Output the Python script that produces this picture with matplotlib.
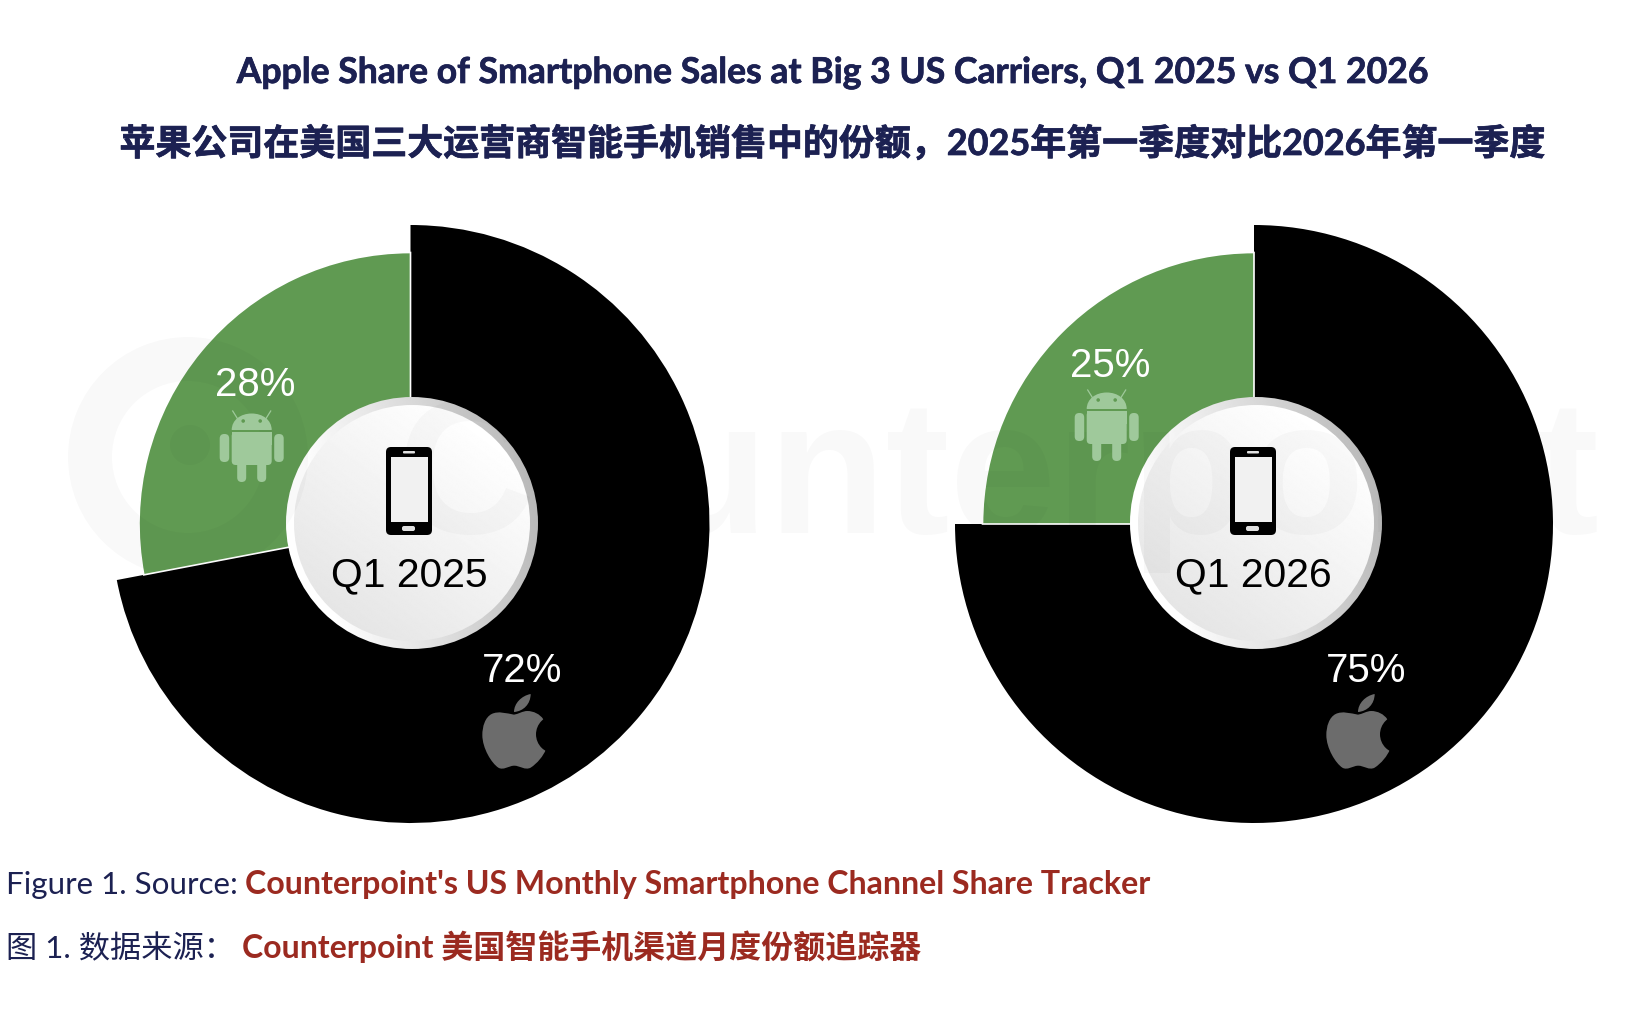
import numpy as np
import matplotlib
matplotlib.use("Agg")
import matplotlib.pyplot as plt
from matplotlib.patches import Circle, Wedge, Rectangle, FancyBboxPatch, PathPatch
from matplotlib.path import Path
import matplotlib.patheffects as pe

W, H = 1638, 1018

# --- data ---
quarters = ["Q1 2025", "Q1 2026"]
apple_share = [72, 75]
android_share = [28, 25]

title_en = "Apple Share of Smartphone Sales at Big 3 US Carriers, Q1 2025 vs Q1 2026"
title_cn = "苹果公司在美国三大运营商智能手机销售中的份额，2025年第一季度对比2026年第一季度"
source_en = ["Figure 1. Source:", "Counterpoint's US Monthly Smartphone Channel Share Tracker"]
source_cn = ["图 1. 数据来源：", "Counterpoint 美国智能手机渠道月度份额追踪器"]

# --- style ---
NAVY = "#1c2152"
RED = "#9b2a20"
GREEN = "#609a52"
ANDROID = "#9fc99b"
APPLE = "#6c6c6c"
CJK = ["Lato", "Noto Sans CJK SC"]
ARIAL = "Liberation Sans"

pie_x = [410.5, 1254]
pie_y = 524
hub_x = [412, 1256]
hub_y = 523
android_dx = [0, 855]
android_dy = [0, -21]
apple_dx = [0, 844]
android_label = [(255, 396), (1110, 376.5)]
apple_label = [(522, 681.5), (1366, 681.5)]


def Y(y):
    # pixel rows of the reference -> axes coordinates
    return H - y


def rrect(ax, x0, y0, x1, y1, r, color, z=4):
    ax.add_patch(FancyBboxPatch((x0, Y(y1)), x1 - x0, y1 - y0,
                                boxstyle=f"round,pad=0,rounding_size={r}",
                                fc=color, ec="none", zorder=z))


def rect(ax, x0, y0, x1, y1, color, z=4):
    ax.add_patch(Rectangle((x0, Y(y1)), x1 - x0, y1 - y0, fc=color, ec="none", zorder=z))


def draw_hub(ax, cx, cy):
    # rim and face of the centre disc, both with a soft gradient
    n = 300
    xx, yy = np.meshgrid(np.linspace(-1, 1, n), np.linspace(1, -1, n))
    rim = np.clip(0.88 - 0.16 * (xx * 0.96 + yy * 0.2), 0, 1)
    face = np.clip(0.95 + 0.05 * (xx * 0.6 + yy * 0.8), 0, 1)
    for r, shade, z in [(126, rim, 2), (118, face, 2.1)]:
        im = ax.imshow(shade, cmap="gray", vmin=0, vmax=1, origin="upper", zorder=z,
                       extent=[cx - r, cx + r, Y(cy + r), Y(cy - r)])
        im.set_clip_path(Circle((cx, Y(cy)), r, transform=ax.transData))


def draw_phone(ax, dx):
    rrect(ax, 386 + dx, 447, 432 + dx, 535, 5, "black")
    rect(ax, 391 + dx, 457, 428 + dx, 522, "#f1f1f1", z=4.1)
    rrect(ax, 403 + dx, 451, 415 + dx, 453.5, 1, "#e0e0e0", z=4.1)
    rrect(ax, 402 + dx, 526, 415 + dx, 531, 2, "#e0e0e0", z=4.1)


def draw_android(ax, dx, dy):
    cx = 251.7 + dx
    C4 = Path.CURVE4
    head = [(cx - 20, Y(430 + dy)), (cx - 20, Y(420 + dy)), (cx - 11, Y(413.5 + dy)), (cx, Y(413.5 + dy)),
            (cx + 11, Y(413.5 + dy)), (cx + 20, Y(420 + dy)), (cx + 20, Y(430 + dy))]
    ax.add_patch(PathPatch(Path(head, [Path.MOVETO] + [C4] * 6), fc=ANDROID, ec="none", zorder=4))
    rrect(ax, cx - 20, 432 + dy, cx + 20, 465 + dy, 4, ANDROID)
    rect(ax, cx - 20, 432 + dy, cx + 20, 445 + dy, ANDROID)
    for off in (-32, 22.5):
        rrect(ax, cx + off, 434 + dy, cx + off + 9.5, 462 + dy, 4.5, ANDROID)
    for off in (-14.5, 5.5):
        rrect(ax, cx + off, 455 + dy, cx + off + 9, 482 + dy, 4.5, ANDROID)
    for side in (-1, 1):
        ax.plot([cx + side * 14, cx + side * 19], [Y(419 + dy), Y(411 + dy)],
                color=ANDROID, lw=0.9, zorder=4)
        ax.add_patch(Circle((cx + side * 8.5, Y(421 + dy)), 1.8, fc=GREEN, ec="none", zorder=4.1))


def apple_xy(pts, dx):
    # outline was traced on a 3x crop with origin (440, 630)
    return [(440 + px / 3 + dx, Y(630 + py / 3)) for px, py in pts]


def draw_apple(ax, dx):
    C4 = Path.CURVE4
    body = [(222, 254), (200, 250), (175, 242), (155, 252), (135, 262), (127, 290), (127, 315),
            (127, 355), (155, 400), (175, 413), (190, 422), (205, 408), (222, 407),
            (240, 407), (255, 422), (272, 413), (292, 400), (310, 378), (318, 358),
            (310, 268), (300, 252), (280, 243), (262, 243), (248, 243), (235, 252), (222, 254)]
    codes = [Path.MOVETO] + [C4] * 18 + [Path.LINETO] + [C4] * 6
    ax.add_patch(PathPatch(Path(apple_xy(body, dx), codes), fc=APPLE, ec="none", zorder=4))
    leaf = [(222, 246), (222, 220), (245, 197), (272, 192), (272, 222), (250, 244), (222, 246)]
    ax.add_patch(PathPatch(Path(apple_xy(leaf, dx), [Path.MOVETO] + [C4] * 6),
                           fc=APPLE, ec="none", zorder=4))
    bite = apple_xy([(345, 313)], dx)[0]
    ax.add_patch(Circle(bite, 57 / 3, fc="black", ec="none", zorder=4.1))


fig = plt.figure(figsize=(W / 100, H / 100), dpi=100, facecolor="white")
ax = fig.add_axes([0, 0, 1, 1])

for i, q in enumerate(quarters):
    wedges, _ = ax.pie([apple_share[i], android_share[i]], colors=["black", GREEN],
                       startangle=90, counterclock=False, radius=299,
                       center=(pie_x[i], Y(pie_y)))
    wedges[1].set_radius(271.5)
    wedges[1].set_edgecolor("white")
    wedges[1].set_linewidth(1.2)
    wedges[1].set_zorder(1.1)
    draw_hub(ax, hub_x[i], hub_y)
    draw_phone(ax, hub_x[i] - hub_x[0])
    draw_android(ax, android_dx[i], android_dy[i])
    draw_apple(ax, apple_dx[i])
    ax.text(hub_x[i] - 3, Y(586.5), q, family=ARIAL, fontsize=29.4, color="black",
            ha="center", va="baseline", zorder=5)
    ax.text(android_label[i][0], Y(android_label[i][1]), f"{android_share[i]}%", family=ARIAL,
            fontsize=29, color="white", ha="center", va="baseline", zorder=5)
    ax.text(apple_label[i][0], Y(apple_label[i][1]), f"{apple_share[i]}%", family=ARIAL,
            fontsize=29, color="white", ha="center", va="baseline", zorder=5)

# faint watermark, sits over the donuts like in the original
ax.add_patch(Wedge((188, Y(457)), 120, 0, 360, width=44, fc="black", alpha=0.025, ec="none", zorder=3))
ax.add_patch(Circle((190, Y(445)), 20, fc="black", alpha=0.025, ec="none", zorder=3))
ax.text(396, Y(533), "Counterpoint", family=ARIAL, weight="bold", fontsize=138,
        color="black", alpha=0.025, ha="left", va="baseline", zorder=3)

# titles, slightly thickened since the original is heavier than plain bold
thick = [pe.withStroke(linewidth=0.5, foreground=NAVY)]
ax.text(832, Y(83), title_en, family="Lato", weight="bold", fontsize=25.6, color=NAVY,
        ha="center", va="baseline", zorder=6, path_effects=thick)
ax.text(833, Y(155), title_cn, family=CJK, weight="bold", fontsize=25.9, color=NAVY,
        ha="center", va="baseline", zorder=6, path_effects=thick)

# source lines
ax.text(6, Y(894), source_en[0], family="Lato", fontsize=22.6, color=NAVY, va="baseline")
ax.text(245, Y(894), source_en[1], family="Lato", weight="bold", fontsize=23.1, color=RED, va="baseline")
ax.text(6, Y(958), source_cn[0], family=CJK, fontsize=22.5, color=NAVY, va="baseline")
ax.text(242, Y(958), source_cn[1], family=CJK, weight="bold", fontsize=23, color=RED, va="baseline")

ax.set_aspect("auto")
ax.set_xlim(0, W)
ax.set_ylim(0, H)
ax.axis("off")

fig.savefig("out.png", dpi=100, facecolor="white")
